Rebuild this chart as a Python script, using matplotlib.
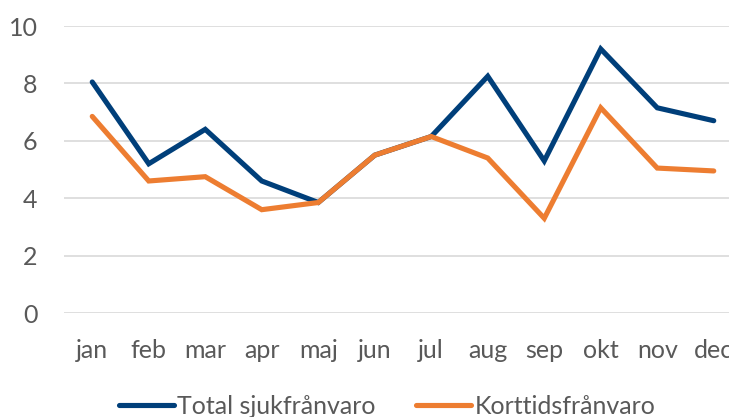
import matplotlib as mpl
mpl.use('Agg')

import matplotlib.pyplot as plt
import numpy as np

plt.rcParams['font.family'] = ['Lato', 'DejaVu Sans']

months = ['jan', 'feb', 'mar', 'apr', 'maj', 'jun', 'jul', 'aug', 'sep', 'okt', 'nov', 'dec']
total = [8.05, 5.2, 6.4, 4.6, 3.85, 5.5, 6.15, 8.25, 5.3, 9.2, 7.15, 6.7]
korttid = [6.85, 4.6, 4.75, 3.6, 3.85, 5.5, 6.15, 5.4, 3.3, 7.15, 5.05, 4.95]
yticks = [0, 2, 4, 6, 8, 10]

fig = plt.figure(figsize=(7.29, 4.17), dpi=100)
ax = fig.add_axes([64 / 729, 0.2494, 678 / 729, 0.6882])

x = np.arange(len(months))
ax.plot(x, total, color='#003f7a', linewidth=3.7, solid_joinstyle='miter',
        solid_capstyle='round', label='Total sjukfrånvaro', clip_on=False)
ax.plot(x, korttid, color='#ed7d31', linewidth=3.7, solid_joinstyle='miter',
        solid_capstyle='round', label='Korttidsfrånvaro', clip_on=False)

ax.set_xlim(-0.5, 11.5)
ax.set_ylim(0, 10)
ax.set_yticks(yticks)
ax.set_xticks(x)
ax.set_xticklabels(months)
ax.yaxis.grid(True, color='#d9d9d9', linewidth=1.2)
ax.set_axisbelow(True)
for s in ax.spines.values():
    s.set_visible(False)
ax.tick_params(axis='both', length=0, labelsize=18, labelcolor='#595959')
ax.tick_params(axis='x', pad=19)
ax.tick_params(axis='y', pad=19)

leg = fig.legend(loc='center', bbox_to_anchor=(387 / 729, 0.025), ncol=2, frameon=False,
                 fontsize=18, handlelength=2.2, columnspacing=1.6, handletextpad=0.15)
for t in leg.get_texts():
    t.set_color('#595959')

fig.savefig('out.png', dpi=100)
